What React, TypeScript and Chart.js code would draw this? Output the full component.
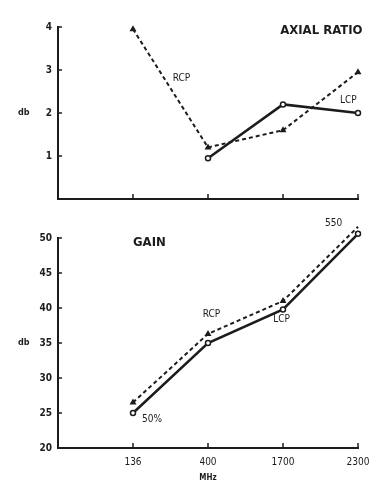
import React, { useEffect, useRef } from "react";
import { Chart, registerables } from "chart.js";

Chart.register(...registerables);

const categories = ["136", "400", "1700", "2300"];
const axialRCP = [3.95, 1.2, 1.6, 2.95];
const axialLCP = [null, 0.95, 2.2, 2.0];
const axialTicks = [1, 2, 3, 4];
const gainRCP = [26.5, 36.3, 41, 51.6];
const gainLCP = [25, 35, 39.8, 50.6];
const gainTicks = [20, 25, 30, 35, 40, 45, 50];

const INK = "#1c1c1c";
const FONT = "'DejaVu Sans Condensed', 'DejaVu Sans', sans-serif";

type Note = { text: string; x: number; y: number; align: CanvasTextAlign; bold?: boolean; size?: number };

const axialNotes: Note[] = [
  { text: "RCP", x: 1.53, y: 2.8, align: "left" },
  { text: "LCP", x: 3.76, y: 2.29, align: "left" },
  { text: "AXIAL RATIO", x: 4.06, y: 3.92, align: "right", bold: true, size: 13 },
];
const gainNotes: Note[] = [
  { text: "GAIN", x: 1.0, y: 49.3, align: "left", bold: true, size: 13 },
  { text: "RCP", x: 1.93, y: 39.1, align: "left" },
  { text: "LCP", x: 2.87, y: 38.3, align: "left" },
  { text: "50%", x: 1.12, y: 24.1, align: "left" },
  { text: "550", x: 3.56, y: 52.1, align: "left" },
];

const toPts = (arr: (number | null)[]) => arr.map((v, i) => ({ x: i + 1, y: v }));

function makePlugin(notes: Note[], dbValue: number, showMHz: boolean) {
  return {
    id: "decor",
    afterDraw(chart: any) {
      const ctx = chart.ctx;
      const xs = chart.scales.x;
      const ys = chart.scales.y;
      const area = chart.chartArea;
      ctx.save();
      ctx.strokeStyle = INK;
      ctx.lineWidth = 1.5;
      ys.ticks.forEach((t: any) => {
        const py = ys.getPixelForValue(t.value);
        ctx.beginPath();
        ctx.moveTo(area.left, py);
        ctx.lineTo(area.left + 4, py);
        ctx.stroke();
      });
      xs.ticks.forEach((t: any) => {
        if (t.value < 1) return;
        const px = xs.getPixelForValue(t.value);
        ctx.beginPath();
        ctx.moveTo(px, area.bottom);
        ctx.lineTo(px, area.bottom - 5);
        ctx.stroke();
      });
      ctx.fillStyle = INK;
      ctx.textBaseline = "middle";
      notes.forEach((n) => {
        ctx.font = `${n.bold ? "bold " : ""}${n.size || 10}px ${FONT}`;
        ctx.textAlign = n.align;
        ctx.fillText(n.text, xs.getPixelForValue(n.x), ys.getPixelForValue(n.y));
      });
      ctx.font = `bold 9px ${FONT}`;
      ctx.textAlign = "left";
      ctx.fillText("db", 18, ys.getPixelForValue(dbValue));
      if (showMHz) {
        ctx.font = `bold 8px ${FONT}`;
        ctx.textAlign = "center";
        ctx.fillText("MHz", (area.left + area.right) / 2, area.bottom + 30);
      }
      ctx.restore();
    },
  };
}

function buildConfig(
  rcp: (number | null)[],
  lcp: (number | null)[],
  yTicks: number[],
  showX: boolean,
  xHeight: number,
  padTop: number,
  notes: Note[],
  dbValue: number
): any {
  const yMin = yTicks[0] === 1 ? 0 : yTicks[0];
  const yMax = yTicks[yTicks.length - 1];
  return {
    type: "line",
    data: {
      datasets: [
        {
          data: toPts(rcp),
          borderColor: INK,
          borderWidth: 2,
          borderDash: [4, 3],
          pointStyle: "triangle",
          pointRadius: 2,
          pointBackgroundColor: INK,
          pointBorderColor: INK,
          spanGaps: false,
          clip: false,
        },
        {
          data: toPts(lcp),
          borderColor: INK,
          borderWidth: 2.5,
          pointStyle: "circle",
          pointRadius: 2.5,
          pointBackgroundColor: "#ffffff",
          pointBorderColor: INK,
          pointBorderWidth: 1.5,
          clip: false,
        },
      ],
    },
    options: {
      animation: false,
      responsive: false,
      maintainAspectRatio: false,
      layout: { padding: { top: padTop, right: 14, left: 0, bottom: 0 } },
      plugins: { legend: { display: false }, tooltip: { enabled: false } },
      scales: {
        x: {
          type: "linear",
          min: 0,
          max: 4,
          afterFit: (s: any) => {
            s.height = xHeight;
            s.paddingLeft = 0;
            s.paddingRight = 0;
          },
          afterBuildTicks: (s: any) => {
            s.ticks = [0, 1, 2, 3, 4].map((v) => ({ value: v }));
          },
          grid: { display: false, drawTicks: false },
          border: { display: true, color: INK, width: 2 },
          ticks: {
            display: showX,
            padding: 8,
            color: INK,
            font: { family: FONT, size: 10 },
            callback: (v: number) => (v >= 1 ? categories[v - 1] : ""),
          },
        },
        y: {
          min: yMin,
          max: yMax,
          afterFit: (s: any) => {
            s.width = 58;
            s.paddingTop = 0;
            s.paddingBottom = 0;
          },
          afterBuildTicks: (s: any) => {
            s.ticks = yTicks.map((v) => ({ value: v }));
          },
          grid: { display: false, drawTicks: false },
          border: { display: true, color: INK, width: 2 },
          ticks: {
            padding: 6,
            color: INK,
            font: { family: FONT, size: 10, weight: "bold" },
          },
        },
      },
    },
    plugins: [makePlugin(notes, dbValue, showX)],
  };
}

function ChartCanvas({ config, width, height, top }: { config: any; width: number; height: number; top: number }) {
  const ref = useRef<HTMLCanvasElement | null>(null);
  useEffect(() => {
    if (!ref.current) return;
    const chart = new Chart(ref.current, config);
    return () => chart.destroy();
  }, []);
  return (
    <canvas
      ref={ref}
      width={width}
      height={height}
      style={{ position: "absolute", left: 0, top, width, height }}
    />
  );
}

export default function App() {
  const axialCfg = buildConfig(axialRCP, axialLCP, axialTicks, false, 16, 27, axialNotes, 2);
  const gainCfg = buildConfig(gainRCP, gainLCP, gainTicks, true, 49, 23, gainNotes, 35);
  return (
    <div style={{ position: "absolute", left: 0, top: 0, width: 372, height: 497, background: "#fff", overflow: "hidden" }}>
      <ChartCanvas config={axialCfg} width={372} height={215} top={0} />
      <ChartCanvas config={gainCfg} width={372} height={282} top={215} />
    </div>
  );
}
